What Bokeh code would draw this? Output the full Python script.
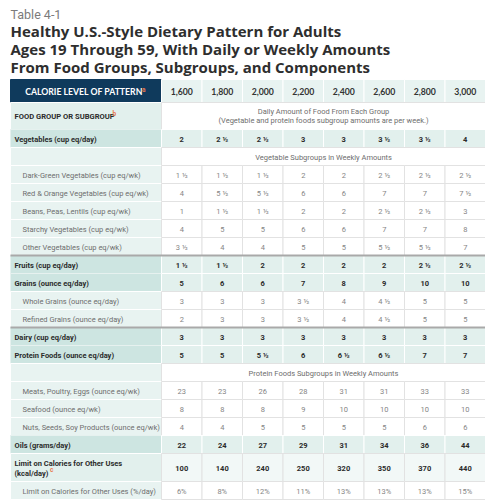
from bokeh.plotting import figure
from bokeh.models import Range1d, ColumnDataSource
from bokeh.embed import file_html
from bokeh.resources import INLINE
from bokeh.core.properties import value

# ---------------- data ----------------
table_number = "Table 4-1"
title_lines = [
    "Healthy U.S.-Style Dietary Pattern for Adults",
    "Ages 19 Through 59, With Daily or Weekly Amounts",
    "From Food Groups, Subgroups, and Components",
]
header_label = "CALORIE LEVEL OF PATTERN"
calorie_levels = ["1,600", "1,800", "2,000", "2,200", "2,400", "2,600", "2,800", "3,000"]
food_group_label = "FOOD GROUP OR SUBGROUP"
food_group_note = ["Daily Amount of Food From Each Group",
                   "(Vegetable and protein foods subgroup amounts are per week.)"]

vegetables = ["2", "2 ½", "2 ½", "3", "3", "3 ½", "3 ½", "4"]
dark_green = ["1 ½", "1 ½", "1 ½", "2", "2", "2 ½", "2 ½", "2 ½"]
red_orange = ["4", "5 ½", "5 ½", "6", "6", "7", "7", "7 ½"]
beans_peas_lentils = ["1", "1 ½", "1 ½", "2", "2", "2 ½", "2 ½", "3"]
starchy = ["4", "5", "5", "6", "6", "7", "7", "8"]
other_veg = ["3 ½", "4", "4", "5", "5", "5 ½", "5 ½", "7"]
fruits = ["1 ½", "1 ½", "2", "2", "2", "2", "2 ½", "2 ½"]
grains = ["5", "6", "6", "7", "8", "9", "10", "10"]
whole_grains = ["3", "3", "3", "3 ½", "4", "4 ½", "5", "5"]
refined_grains = ["2", "3", "3", "3 ½", "4", "4 ½", "5", "5"]
dairy = ["3", "3", "3", "3", "3", "3", "3", "3"]
protein = ["5", "5", "5 ½", "6", "6 ½", "6 ½", "7", "7"]
meats = ["23", "23", "26", "28", "31", "31", "33", "33"]
seafood = ["8", "8", "8", "9", "10", "10", "10", "10"]
nuts_seeds = ["4", "4", "5", "5", "5", "5", "6", "6"]
oils = ["22", "24", "27", "29", "31", "34", "36", "44"]
limit_kcal = ["100", "140", "240", "250", "320", "350", "370", "440"]
limit_pct = ["6%", "8%", "12%", "11%", "13%", "13%", "13%", "15%"]

rows = [
    ("Vegetables (cup eq/day)", "group", vegetables),
    ("Vegetable Subgroups in Weekly Amounts", "span", None),
    ("Dark-Green Vegetables (cup eq/wk)", "sub", dark_green),
    ("Red & Orange Vegetables (cup eq/wk)", "sub", red_orange),
    ("Beans, Peas, Lentils (cup eq/wk)", "sub", beans_peas_lentils),
    ("Starchy Vegetables (cup eq/wk)", "sub", starchy),
    ("Other Vegetables (cup eq/wk)", "sub", other_veg),
    ("Fruits (cup eq/day)", "group", fruits),
    ("Grains (ounce eq/day)", "group", grains),
    ("Whole Grains (ounce eq/day)", "sub", whole_grains),
    ("Refined Grains (ounce eq/day)", "sub", refined_grains),
    ("Dairy (cup eq/day)", "group", dairy),
    ("Protein Foods (ounce eq/day)", "group", protein),
    ("Protein Foods Subgroups in Weekly Amounts", "span", None),
    ("Meats, Poultry, Eggs (ounce eq/wk)", "sub", meats),
    ("Seafood (ounce eq/wk)", "sub", seafood),
    ("Nuts, Seeds, Soy Products (ounce eq/wk)", "sub", nuts_seeds),
    ("Oils (grams/day)", "group", oils),
    ("Limit on Calories for Other Uses\n(kcal/day)", "limit", limit_kcal),
    ("Limit on Calories for Other Uses (%/day)", "sub", limit_pct),
]
separators_after = ["Other Vegetables (cup eq/wk)", "Refined Grains (ounce eq/day)"]

# ---------------- style / layout ----------------
NAVY = "#0f3a5c"
TEAL_DARK = "#cde5e1"
TEAL_MID = "#e2f0ed"
TEAL_LIGHT = "#e8f3f1"
LIMIT_DATA = "#f2f8f7"
ORANGE = "#e8784e"
DARK = "#2b2b2b"
GRAY = "#6e6e6e"
VAL_GRAY = "#858585"
GRID = "#e2e2e2"

X0, XL, XR = 10.0, 161.0, 485.0
ncol = len(calorie_levels)
colw = (XR - XL) / ncol
H_HEAD, H_NOTE, H_ROW, H_LIMIT = 23, 27, 18, 28
Y_TABLE = 79.0
FONT = value("Roboto")
FS = "7.5px"

p = figure(width=485, height=500, x_range=Range1d(0, 485), y_range=Range1d(500, 0),
           output_backend="svg", toolbar_location=None, min_border=0,
           x_axis_location=None, y_axis_location=None)
p.outline_line_color = None
p.xgrid.visible = False
p.ygrid.visible = False
p.background_fill_color = "white"
p.border_fill_color = "white"

cells = dict(left=[], right=[], top=[], bottom=[], fill=[], line=[])


def cell(l, r, t, b, fill, line):
    cells["left"].append(l); cells["right"].append(r)
    cells["top"].append(t); cells["bottom"].append(b)
    cells["fill"].append(fill); cells["line"].append(line)


texts = []


def txt(x, y, s, align="center", size=FS, style="normal", color=DARK, font=FONT, baseline="middle"):
    texts.append((x, y, s, align, size, style, color, font, baseline))


# title
txt(X0, 13.5, table_number, "left", "12.5px", "normal", "#7b7b7b", value("Roboto"), "alphabetic")
for i, line in enumerate(title_lines):
    txt(X0, 30.5 + i * 18, line, "left", "15px", "bold", "#2e2e2e", value("Open Sans"), "alphabetic")

# header row
y = Y_TABLE
cell(X0, XL, y, y + H_HEAD, NAVY, NAVY)
for j, c in enumerate(calorie_levels):
    cell(XL + j * colw, XL + (j + 1) * colw, y, y + H_HEAD, TEAL_LIGHT, "white")
    txt(XL + (j + 0.5) * colw, y + H_HEAD / 2 + 0.5, c, "center", "8.7px", "bold", "#333333", value("Lato"))
txt((X0 + XL) / 2 - 2, y + H_HEAD / 2 + 0.5, header_label, "center", "8.7px", "bold", "white", value("Lato"))
txt(141.5, y + H_HEAD / 2 - 1.5, "a", "left", "6.5px", "bold", ORANGE, FONT)
y += H_HEAD

# food group row
cell(X0, XL, y, y + H_NOTE, TEAL_MID, "white")
cell(XL, XR, y, y + H_NOTE, "white", GRID)
txt(X0 + 4, y + H_NOTE / 2 + 0.5, food_group_label, "left", "7.6px", "bold", DARK, FONT)
txt(112, y + H_NOTE / 2 - 2.5, "b", "left", "6.5px", "bold", ORANGE, FONT)
txt((XL + XR) / 2, y + H_NOTE / 2 - 4.5, food_group_note[0], "center", FS, "normal", GRAY, FONT)
txt((XL + XR) / 2, y + H_NOTE / 2 + 4.5, food_group_note[1], "center", FS, "normal", GRAY, FONT)
y += H_NOTE

sep_y = []
for label, kind, vals in rows:
    h = H_LIMIT if kind == "limit" else H_ROW
    yc = y + h / 2 + 0.5
    if kind == "group":
        cell(X0, XL, y, y + h, TEAL_DARK, "#e6f1ef")
        for j, v in enumerate(vals):
            cell(XL + j * colw, XL + (j + 1) * colw, y, y + h, TEAL_MID, "white")
            txt(XL + (j + 0.5) * colw, yc, v, "center", FS, "bold", DARK, FONT)
        txt(X0 + 4, yc, label, "left", FS, "bold", DARK, FONT)
    elif kind == "limit":
        cell(X0, XL, y, y + h, TEAL_MID, "white")
        for j, v in enumerate(vals):
            cell(XL + j * colw, XL + (j + 1) * colw, y, y + h, LIMIT_DATA, GRID)
            txt(XL + (j + 0.5) * colw, yc, v, "center", FS, "bold", DARK, FONT)
        l1, l2 = label.split("\n")
        txt(X0 + 4, yc - 5, l1, "left", FS, "bold", DARK, FONT)
        txt(X0 + 4, yc + 5, l2, "left", FS, "bold", DARK, FONT)
        txt(49.5, yc + 2, "c", "left", "6.5px", "bold", ORANGE, FONT)
    elif kind == "span":
        cell(X0, XL, y, y + h, TEAL_LIGHT, "white")
        cell(XL, XR, y, y + h, "white", GRID)
        txt((XL + XR) / 2, yc, label, "center", FS, "normal", GRAY, FONT)
    else:
        cell(X0, XL, y, y + h, TEAL_LIGHT, "white")
        for j, v in enumerate(vals):
            cell(XL + j * colw, XL + (j + 1) * colw, y, y + h, "white", GRID)
            txt(XL + (j + 0.5) * colw, yc, v, "center", FS, "normal", VAL_GRAY, FONT)
        txt(X0 + 12, yc, label, "left", FS, "normal", GRAY, FONT)
    y += h
    if label in separators_after:
        sep_y.append(y)

src = ColumnDataSource(cells)
p.quad(left="left", right="right", top="top", bottom="bottom", fill_color="fill",
       line_color="line", line_width=1, source=src)

p.segment(x0=[X0] * len(sep_y), x1=[XR] * len(sep_y), y0=sep_y, y1=sep_y,
          line_color="#a9a9a9", line_width=2)

for (x, yy, s, align, size, style, color, font, baseline) in texts:
    p.text(x=[x], y=[yy], text=[s], text_align=align, text_baseline=baseline,
           text_font_size=size, text_font_style=style, text_color=color, text_font=font)

open("out.html", "w").write(file_html(p, INLINE))
